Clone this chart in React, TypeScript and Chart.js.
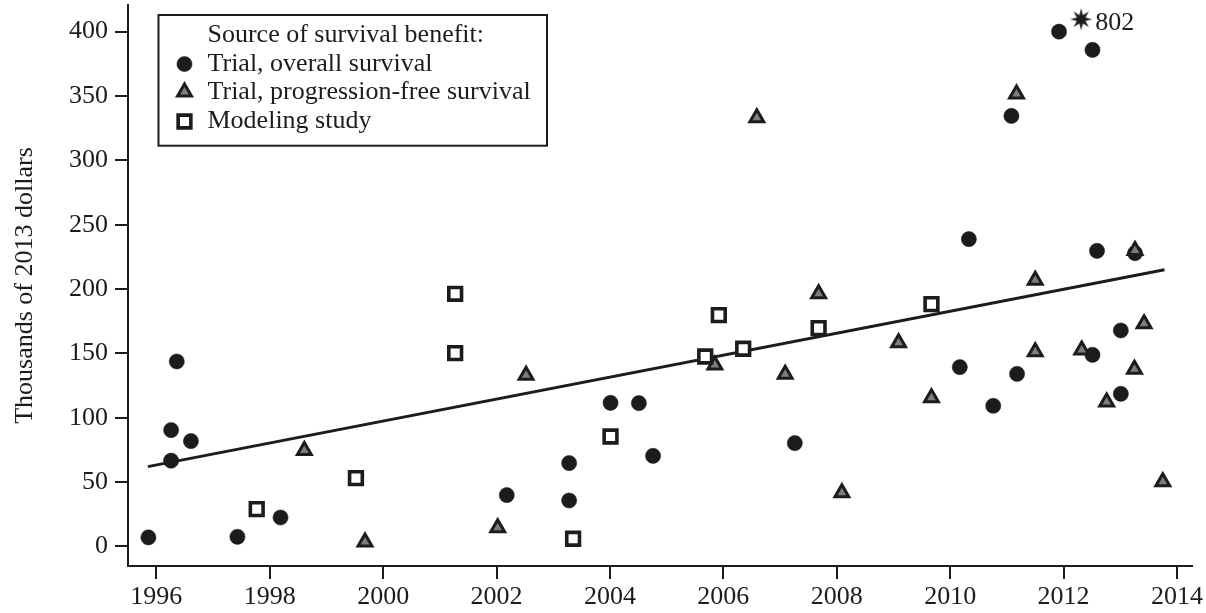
import React, { useEffect, useRef } from 'react';
import { Chart, registerables } from 'chart.js';
import { drawPoint } from 'chart.js/helpers';

Chart.register(...registerables);

const FONT = '"Liberation Serif", "Times New Roman", serif';
const INK = '#1c1c1c';

// ---- tick values ----
const xTickValues = [1996, 1998, 2000, 2002, 2004, 2006, 2008, 2010, 2012, 2014];
const yTickValues = [0, 50, 100, 150, 200, 250, 300, 350, 400];

// ---- series: Trial, overall survival ----
const overallYears = [
  1995.86, 1996.36, 1996.26, 1996.61, 1996.26, 1997.43, 1998.19, 2002.18, 2003.28, 2003.28,
  2004.01, 2004.51, 2004.76, 2007.26, 2010.33, 2010.17, 2010.76, 2011.18, 2011.08, 2011.92,
  2012.51, 2012.59, 2012.51, 2013.01, 2013.01, 2013.26,
];
const overallValues = [
  7, 143.7, 90.4, 81.9, 66.6, 7.5, 22.5, 39.9, 64.8, 35.7,
  111.6, 111.4, 70.4, 80.3, 238.8, 139.3, 109.3, 134.1, 334.5, 400,
  385.8, 229.7, 148.9, 167.8, 118.6, 227.9,
];

// ---- series: Trial, progression-free survival ----
const pfsYears = [
  1998.61, 1999.68, 2002.02, 2002.52, 2005.85, 2006.59, 2007.09, 2007.68, 2008.09, 2009.09,
  2009.67, 2011.17, 2011.5, 2011.5, 2012.32, 2012.76, 2013.26, 2013.25, 2013.42, 2013.75,
];
const pfsValues = [
  74.5, 3.5, 14.5, 133, 141, 333, 133.7, 196.3, 41.7, 158.2,
  115.5, 351.6, 206.9, 151.3, 152.6, 112.2, 230, 137.6, 173, 50.3,
];

// ---- series: Modeling study ----
const modelYears = [1997.77, 1999.52, 2001.27, 2001.27, 2003.35, 2004.01, 2005.68, 2005.92, 2006.35, 2007.68, 2009.67];
const modelValues = [29, 53.1, 196.3, 150.2, 6, 85.4, 147.6, 179.7, 153.6, 169.6, 188.3];

// ---- off-scale outlier (plotted at top, labelled with its true value) ----
const outlierYears = [2012.31];
const outlierPlotted = [409.6];
const outlierLabels = ['802'];

// ---- fitted trend line ----
const trendYears = [1995.85, 2013.78];
const trendValues = [62, 215];

const legendTitle = 'Source of survival benefit:';

const toPoints = (xs: number[], ys: number[]) => xs.map((x, i) => ({ x, y: ys[i] }));

export default function App() {
  const ref = useRef<HTMLCanvasElement>(null);

  useEffect(() => {
    const canvas = ref.current;
    if (!canvas) return;

    // 8-pointed filled burst used as the outlier marker
    const star = document.createElement('canvas');
    star.width = 24;
    star.height = 24;
    const sctx = star.getContext('2d')!;
    sctx.fillStyle = INK;
    sctx.beginPath();
    for (let i = 0; i < 16; i++) {
      const r = i % 2 === 0 ? 11 : 4.6;
      const a = -Math.PI / 2 + (i * Math.PI) / 8;
      const px = 12 + r * Math.cos(a);
      const py = 12 + r * Math.sin(a);
      if (i === 0) sctx.moveTo(px, py);
      else sctx.lineTo(px, py);
    }
    sctx.closePath();
    sctx.fill();

    const legendPlugin = {
      id: 'boxLegend',
      afterDatasetsDraw(chart: any) {
        const { ctx, chartArea } = chart;
        const x0 = chartArea.left + 30.5;
        const y0 = chartArea.top + 10;
        const w = 388.5;
        const h = 130.7;
        ctx.save();
        ctx.fillStyle = '#ffffff';
        ctx.fillRect(x0, y0, w, h);
        ctx.lineWidth = 2;
        ctx.strokeStyle = INK;
        ctx.strokeRect(x0, y0, w, h);
        ctx.font = `26px ${FONT}`;
        ctx.textBaseline = 'middle';
        ctx.textAlign = 'left';
        ctx.fillStyle = INK;
        ctx.fillText(legendTitle, x0 + 49, y0 + 20);
        const rows = [49, 77, 106.5];
        let r = 0;
        chart.data.datasets.forEach((ds: any) => {
          if (!ds.inLegend) return;
          const cy = y0 + rows[r++];
          ctx.fillStyle = ds.backgroundColor;
          ctx.strokeStyle = ds.borderColor;
          ctx.lineWidth = ds.borderWidth;
          drawPoint(ctx, { pointStyle: ds.pointStyle, radius: ds.pointRadius, rotation: 0, borderWidth: ds.borderWidth }, x0 + 26, cy);
          ctx.fillStyle = INK;
          ctx.fillText(ds.label, x0 + 49, cy);
        });
        ctx.restore();
      },
    };

    const outlierLabelPlugin = {
      id: 'outlierLabel',
      afterDatasetsDraw(chart: any) {
        const idx = chart.data.datasets.findIndex((d: any) => d.isOutlier);
        if (idx < 0) return;
        const meta = chart.getDatasetMeta(idx);
        const { ctx } = chart;
        ctx.save();
        ctx.font = `26px ${FONT}`;
        ctx.fillStyle = INK;
        ctx.textBaseline = 'middle';
        ctx.textAlign = 'left';
        meta.data.forEach((el: any, i: number) => {
          ctx.fillText(outlierLabels[i], el.x + 14, el.y + 4);
        });
        ctx.restore();
      },
    };

    const chart = new Chart(canvas, {
      type: 'scatter',
      data: {
        datasets: [
          {
            label: 'Trial, overall survival',
            inLegend: true,
            data: toPoints(overallYears, overallValues),
            pointStyle: 'circle',
            pointRadius: 7.6,
            backgroundColor: INK,
            borderColor: INK,
            borderWidth: 0.5,
            order: 3,
          } as any,
          {
            label: 'Trial, progression-free survival',
            inLegend: true,
            data: toPoints(pfsYears, pfsValues),
            pointStyle: 'triangle',
            pointRadius: 8,
            backgroundColor: '#7d7d7d',
            borderColor: INK,
            borderWidth: 3,
            order: 2,
          } as any,
          {
            label: 'Modeling study',
            inLegend: true,
            data: toPoints(modelYears, modelValues),
            pointStyle: 'rect',
            pointRadius: 9,
            backgroundColor: '#ffffff',
            borderColor: INK,
            borderWidth: 3.6,
            order: 1,
          } as any,
          {
            label: 'outlier',
            isOutlier: true,
            data: toPoints(outlierYears, outlierPlotted),
            pointStyle: star,
            pointRadius: 11,
            backgroundColor: INK,
            borderColor: INK,
            order: 3,
          } as any,
          {
            label: 'trend',
            data: toPoints(trendYears, trendValues),
            showLine: true,
            pointRadius: 0,
            borderColor: INK,
            borderWidth: 3,
            fill: false,
            order: 5,
          } as any,
        ],
      },
      options: {
        responsive: false,
        animation: false,
        events: [],
        layout: { autoPadding: false, padding: { top: 5, right: 14, left: 0, bottom: 0 } },
        plugins: {
          legend: { display: false },
          tooltip: { enabled: false },
          title: { display: false },
        },
        scales: {
          x: {
            type: 'linear',
            min: 1995.5,
            max: 2014.265,
            afterBuildTicks: (s: any) => {
              s.ticks = xTickValues.map((v) => ({ value: v }));
            },
            afterFit: (s: any) => {
              s.height = 47;
              s.paddingLeft = 0;
              s.paddingRight = 0;
            },
            ticks: {
              callback: (v: any) => String(v),
              font: { family: FONT, size: 26 },
              color: INK,
              padding: 3,
              maxRotation: 0,
              autoSkip: false,
            },
            grid: {
              display: true,
              drawOnChartArea: false,
              drawTicks: true,
              tickLength: 13,
              lineWidth: 2,
              color: INK,
            },
            border: { display: true, color: INK, width: 2 },
          },
          y: {
            type: 'linear',
            min: -15.2,
            max: 420.7,
            afterBuildTicks: (s: any) => {
              s.ticks = yTickValues.map((v) => ({ value: v }));
            },
            afterFit: (s: any) => {
              s.width = 128;
              s.paddingTop = 0;
              s.paddingBottom = 0;
            },
            ticks: {
              callback: (v: any) => String(v),
              font: { family: FONT, size: 26 },
              color: INK,
              padding: 7,
              autoSkip: false,
            },
            grid: {
              display: true,
              drawOnChartArea: false,
              drawTicks: true,
              tickLength: 13,
              lineWidth: 2,
              color: INK,
            },
            border: { display: true, color: INK, width: 2 },
            title: {
              display: true,
              text: 'Thousands of 2013 dollars',
              font: { family: FONT, size: 26 },
              color: INK,
              padding: { top: 9.6, bottom: 0 },
            },
          },
        },
      } as any,
      plugins: [legendPlugin, outlierLabelPlugin],
    });

    return () => chart.destroy();
  }, []);

  return (
    <div style={{ position: 'fixed', left: 0, top: 0, width: 1206, height: 613, background: '#ffffff' }}>
      <canvas ref={ref} width={1206} height={613} style={{ display: 'block' }} />
    </div>
  );
}
